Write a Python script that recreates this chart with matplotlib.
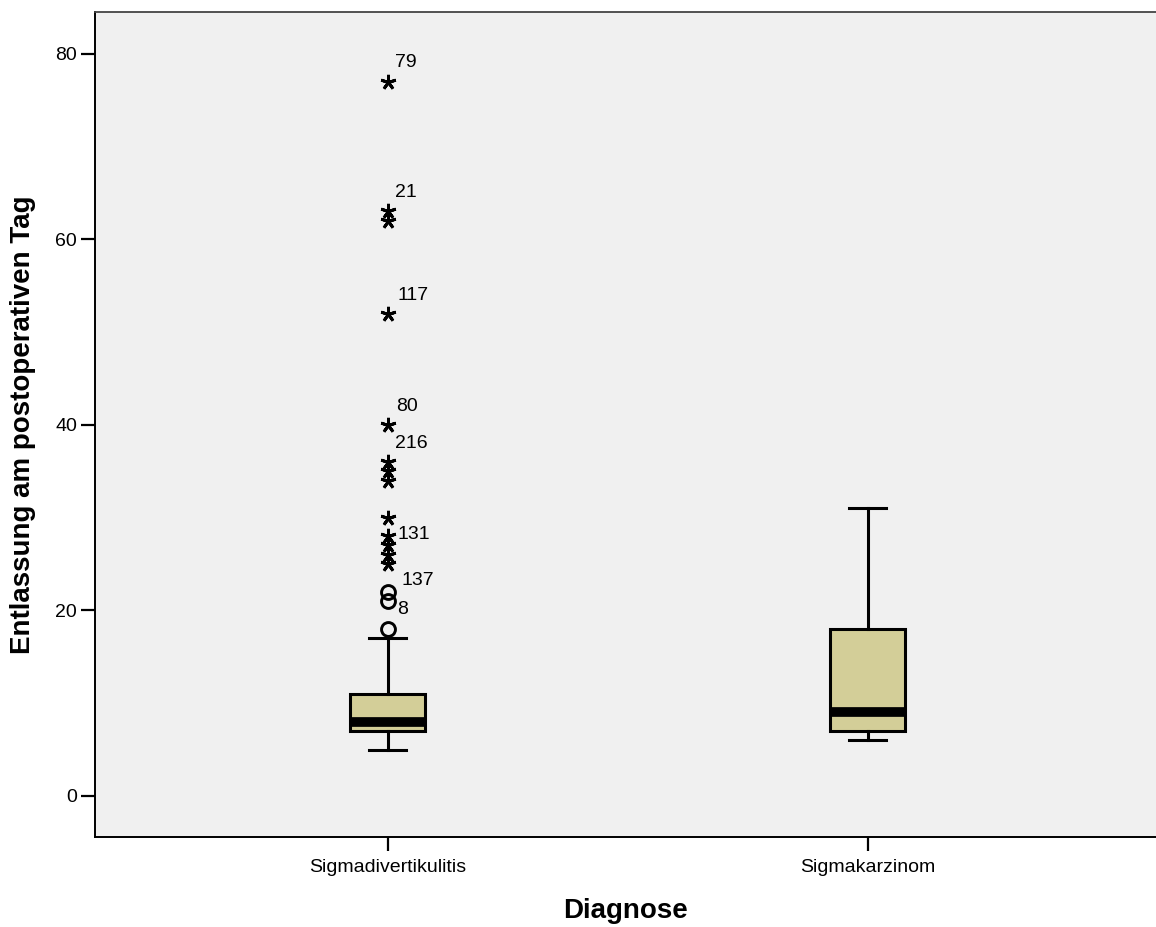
import numpy as np
import matplotlib
matplotlib.use("Agg")
import matplotlib.pyplot as plt

plt.rcParams['font.family'] = ['Liberation Sans', 'DejaVu Sans']

# Diagnosis groups and box statistics (days until discharge)
groups = ['Sigmadivertikulitis', 'Sigmakarzinom']
medians = [8, 9]
q1s = [7, 7]
q3s = [11, 18]
whisker_lo = [5, 6]
whisker_hi = [17, 31]

# Outliers of the first group: mild (circles) and extreme (asterisks)
mild_outliers = [18, 21, 22]
extreme_outliers = [25, 26, 27, 28, 30, 34, 35, 36, 40, 52, 62, 63, 77]

# Case numbers shown next to some outliers
case_labels = ['79', '21', '117', '80', '216', '131', '137', '8']
case_values = [77, 63, 52, 40, 36, 28, 22, 21]
label_offsets = [(5, 14), (5, 14), (7, 13), (6, 13), (5, 13), (7, 1), (10, 8), (7, -6)]

box_color = '#D3CE98'
bg_color = '#F0F0F0'

fig = plt.figure(figsize=(11.56, 9.27), dpi=100)
ax = fig.add_axes([95 / 1156, 1 - 837 / 927, 1 - 95 / 1156, (837 - 12) / 927])
ax.set_facecolor(bg_color)

positions = [1, 2]
stats = []
for i in range(len(groups)):
    stats.append(dict(med=medians[i], q1=q1s[i], q3=q3s[i],
                      whislo=whisker_lo[i], whishi=whisker_hi[i], fliers=[]))

ax.bxp(stats, positions=positions, widths=0.156, capwidths=0.077,
       patch_artist=True, showfliers=False,
       boxprops=dict(facecolor=box_color, edgecolor='black', linewidth=2.2),
       medianprops=dict(color='black', linewidth=7, solid_capstyle='butt'),
       whiskerprops=dict(color='black', linewidth=2.2),
       capprops=dict(color='black', linewidth=2.2))

ax.plot(np.full(len(mild_outliers), positions[0]), mild_outliers, 'o',
        mfc='none', mec='black', ms=10, mew=2.1, zorder=4)
ax.plot(np.full(len(extreme_outliers), positions[0]), extreme_outliers,
        marker=(5, 2, 0), linestyle='none', color='black', ms=11, mew=2.1, zorder=4)

for lab, val, off in zip(case_labels, case_values, label_offsets):
    ax.annotate(lab, (positions[0], val), xytext=off, textcoords='offset points',
                ha='left', va='center', fontsize=14)

ax.set_xlim(0.39, 2.6)
ax.set_ylim(-4.42, 84.5)
ax.set_xticks(positions)
ax.set_xticklabels(groups, fontsize=14)
ax.set_yticks([0, 20, 40, 60, 80])
ax.tick_params(axis='y', labelsize=14, length=10, width=1.6, pad=3)
ax.tick_params(axis='x', length=10, width=1.6, pad=6)

ax.spines['right'].set_visible(False)
for s in ['left', 'bottom']:
    ax.spines[s].set_linewidth(1.4)
ax.spines['top'].set_linewidth(1.3)
ax.spines['top'].set_color('#444444')

ax.set_ylabel('Entlassung am postoperativen Tag', fontsize=20, fontweight='bold', labelpad=14)
ax.set_xlabel('Diagnose', fontsize=20, fontweight='bold', labelpad=16)

fig.savefig('out.png', dpi=100, facecolor='white')
